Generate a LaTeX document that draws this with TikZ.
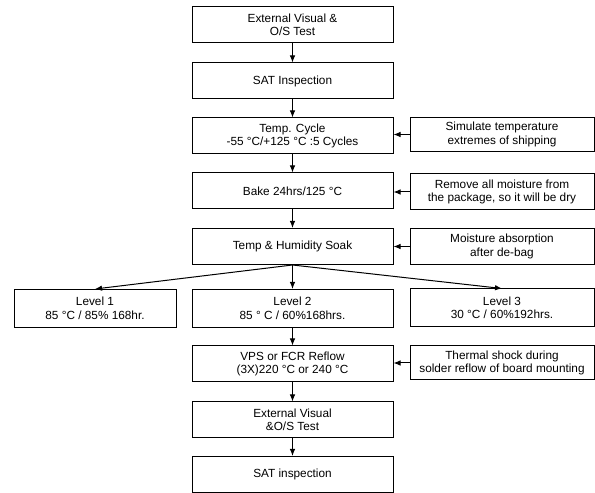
\documentclass[tikz,border=0pt]{standalone}
\usepackage{fontspec}
\setmainfont{Liberation Sans}
\usetikzlibrary{positioning,arrows.meta}

\begin{document}
\begin{tikzpicture}[x=1pt,y=1pt,
    box/.style={draw,line width=1pt,minimum width=201pt,minimum height=36pt,
      align=center,inner sep=1pt,font=\fontsize{11.8}{13.5}\selectfont},
    sidebox/.style={box,minimum width=184pt,minimum height=34pt},
    lvlbox/.style={box,minimum height=38pt},
    flow/.style={line width=1pt,-{Latex[length=7pt,width=5.5pt]}}]
          \useasboundingbox (0,0) rectangle (595,493);
          % main column
          \node[box] (ext1) at (292.5,468) {External Visual \&\\O/S Test};
          \node[box] (sat1) at (292.5,412) {SAT Inspection};
          \node[box] (cycle) at (292.5,357) {Temp. Cycle\\-55 °C/+125 °C :5 Cycles};
          \node[box] (bake) at (292.5,302) {Bake 24hrs/125 °C};
          \node[box] (soak) at (292.5,246.5) {Temp \& Humidity Soak};
          \node[lvlbox,minimum width=162pt] (lvl1) at (95,184.5) {Level 1\\85 °C / 85\% 168hr.};
          \node[lvlbox] (lvl2) at (292.5,184.5) {Level 2\\85 ° C / 60\%168hrs.};
          \node[lvlbox,minimum width=184pt] (lvl3) at (502,185) {Level 3\\30 °C / 60\%192hrs.};
          \node[box] (reflow) at (292.5,129) {VPS or FCR Reflow\\(3X)220 °C or 240 °C};
          \node[box] (ext2) at (292.5,73) {External Visual\\\&O/S Test};
          \node[box] (sat2) at (292.5,18.5) {SAT inspection};
          % reasons on the right
          \node[sidebox] (simul) at (502,358.5) {Simulate temperature\\extremes of shipping};
          \node[sidebox,minimum height=36pt] (remove) at (502,301) {Remove all moisture from\\the package, so it will be dry};
          \node[sidebox,minimum height=36pt] (absorb) at (502,246.5) {Moisture absorption\\after de-bag};
          \node[sidebox] (shock) at (502,130) {Thermal shock during\\solder reflow of board mounting};
          % flow
          \draw[flow] (ext1) -- (sat1);
          \draw[flow] (sat1) -- (cycle);
          \draw[flow] (cycle) -- (bake);
          \draw[flow] (bake) -- (soak);
          \draw[flow] (soak.south) -- (lvl1.north);
          \draw[flow] (soak.south) -- (lvl2.north);
          \draw[flow] (soak.south) -- (lvl3.north);
          \draw[flow] (lvl2) -- (reflow);
          \draw[flow] (reflow) -- (ext2);
          \draw[flow] (ext2) -- (sat2);
          \draw[flow] (simul.west) -- (simul.west -| cycle.east);
          \draw[flow] (remove.west) -- (remove.west -| bake.east);
          \draw[flow] (absorb.west) -- (absorb.west -| soak.east);
          \draw[flow] (shock.west) -- (shock.west -| reflow.east);
        \end{tikzpicture}
\end{document}
